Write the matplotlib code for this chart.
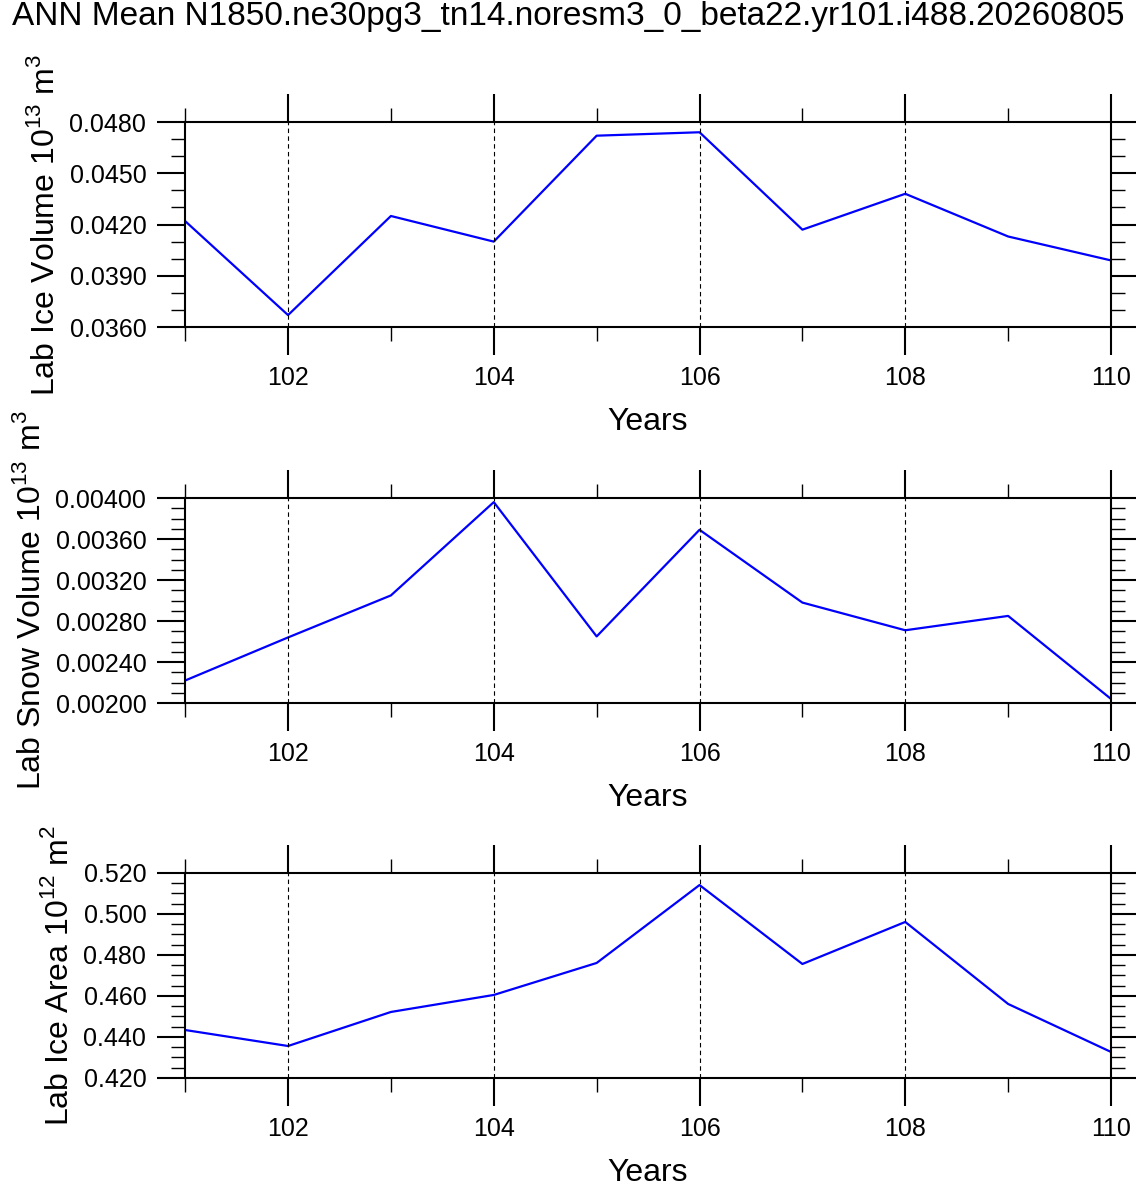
import matplotlib
matplotlib.use('Agg')
import matplotlib.pyplot as plt
from matplotlib.ticker import MultipleLocator, FormatStrFormatter

plt.rcParams['font.family'] = ['Liberation Sans', 'DejaVu Sans']
plt.rcParams['mathtext.fontset'] = 'custom'
plt.rcParams['mathtext.rm'] = 'Liberation Sans'

years = [101, 102, 103, 104, 105, 106, 107, 108, 109, 110]
ice_volume = [0.0422, 0.0367, 0.0425, 0.0410, 0.0472, 0.0474, 0.0417, 0.0438, 0.0413, 0.0399]
snow_volume = [0.00222, 0.00264, 0.00305, 0.00396, 0.00265, 0.00369, 0.00298, 0.00271, 0.00285, 0.00204]
ice_area = [0.4434, 0.4356, 0.4522, 0.4605, 0.4761, 0.5141, 0.4756, 0.4961, 0.4561, 0.4327]

title = 'ANN Mean N1850.ne30pg3_tn14.noresm3_0_beta22.yr101.i488.20260805'
panels = [
    (ice_volume, r'Lab Ice Volume 10$^{13}$ m$^{3}$', (0.036, 0.048), 0.003, 0.001, '%.4f', 0.7247),
    (snow_volume, r'Lab Snow Volume 10$^{13}$ m$^{3}$', (0.002, 0.004), 0.0004, 0.0001, '%.5f', 0.4082),
    (ice_area, r'Lab Ice Area 10$^{12}$ m$^{2}$', (0.42, 0.52), 0.02, 0.005, '%.3f', 0.0926),
]

fig = plt.figure(figsize=(11.36, 11.88), dpi=100)
fig.text(0.5, 0.999, title, ha='center', va='top', fontsize=24)

for vals, ylab, ylim, major, minor, fmt, bottom in panels:
    ax = fig.add_axes([0.163, bottom, 0.815, 0.1726])
    ax.plot(years, vals, color='blue', lw=1.6)
    ax.set_xlim(101, 110)
    ax.set_ylim(*ylim)
    ax.xaxis.set_major_locator(MultipleLocator(2))
    ax.xaxis.set_minor_locator(MultipleLocator(1))
    ax.yaxis.set_major_locator(MultipleLocator(major))
    ax.yaxis.set_minor_locator(MultipleLocator(minor))
    ax.yaxis.set_major_formatter(FormatStrFormatter(fmt))
    for x in range(102, 111, 2):
        ax.axvline(x, color='black', ls=(0, (4, 3)), lw=0.8)
    ax.tick_params(which='major', direction='out', length=20, width=1.5,
                   top=True, right=True, labelsize=18, pad=8)
    ax.tick_params(which='minor', direction='out', length=10, width=1,
                   top=True, right=True)
    for s in ax.spines.values():
        s.set_linewidth(1.5)
    ax.set_xlabel('Years', fontsize=23, labelpad=12)
    ax.set_ylabel(ylab, fontsize=23, labelpad=6)

fig.savefig('out.png', dpi=100)
